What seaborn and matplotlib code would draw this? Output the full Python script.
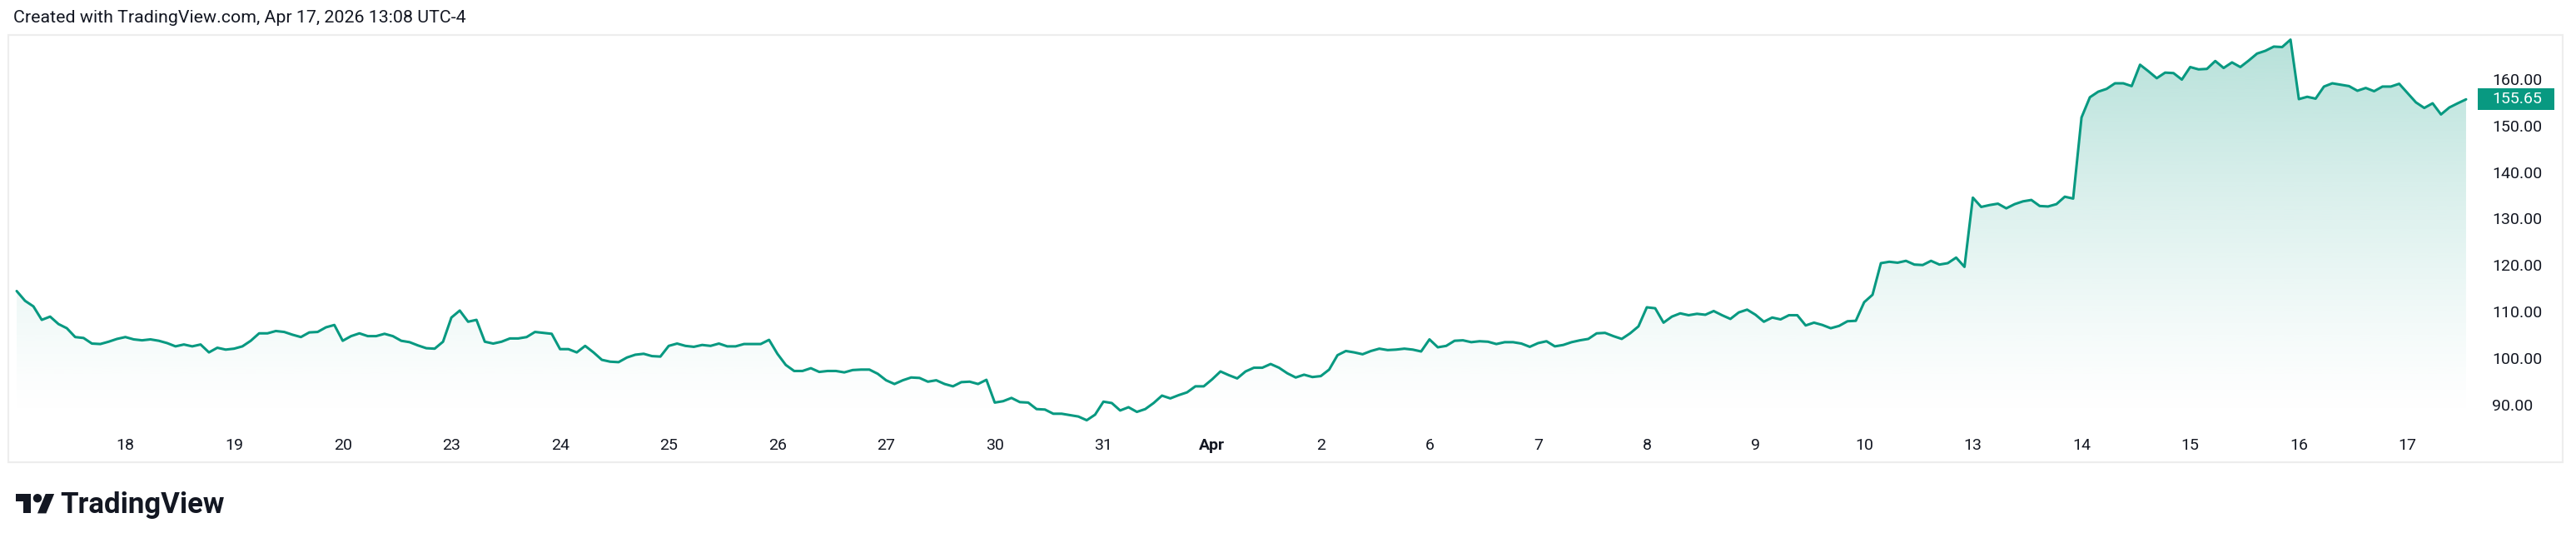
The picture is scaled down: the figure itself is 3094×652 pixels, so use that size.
"""
Area chart of a 30-minute close series, drawn in the look of a TradingView snapshot.
Saves out.png (3094x652).
"""

import numpy as np
import pandas as pd
import matplotlib
matplotlib.use("Agg")
import matplotlib.pyplot as plt
import seaborn as sns
from matplotlib.patches import Rectangle, Polygon, Ellipse

# 30-min closes, regular session only (13 bars per day)
mar17 = [114.4, 112.3, 111.1, 108.2, 108.9, 107.3, 106.4, 104.5, 104.3, 103.1, 103.0, 103.5, 104.1]
mar18 = [104.5, 104.0, 103.8, 104.0, 103.7, 103.2, 102.5, 102.9, 102.5, 102.9, 101.2, 102.2, 101.8]
mar19 = [102.0, 102.5, 103.7, 105.3, 105.3, 105.8, 105.6, 105.0, 104.5, 105.5, 105.6, 106.6, 107.1]
mar20 = [103.7, 104.7, 105.3, 104.7, 104.7, 105.2, 104.7, 103.7, 103.4, 102.7, 102.1, 102.0, 103.5]
mar23 = [108.7, 110.2, 107.8, 108.2, 103.5, 103.1, 103.5, 104.2, 104.2, 104.5, 105.6, 105.4, 105.2]
mar24 = [101.9, 101.9, 101.2, 102.6, 101.2, 99.6, 99.2, 99.1, 100.1, 100.7, 100.9, 100.4, 100.3]
mar25 = [102.6, 103.1, 102.6, 102.4, 102.8, 102.6, 103.1, 102.5, 102.5, 103.0, 103.0, 103.0, 103.9]
mar26 = [100.9, 98.5, 97.2, 97.2, 97.8, 97.0, 97.2, 97.2, 96.9, 97.4, 97.5, 97.5, 96.6]
mar27 = [95.2, 94.4, 95.2, 95.8, 95.7, 94.9, 95.2, 94.4, 93.9, 94.8, 94.9, 94.4, 95.3]
mar30 = [90.4, 90.7, 91.4, 90.5, 90.4, 89.0, 88.9, 88.0, 88.0, 87.7, 87.4, 86.6, 87.8]
mar31 = [90.6, 90.3, 88.7, 89.4, 88.4, 89.0, 90.3, 91.9, 91.3, 92.0, 92.6, 93.9, 93.9]
apr01 = [95.4, 97.1, 96.3, 95.6, 97.1, 97.9, 97.9, 98.7, 97.9, 96.7, 95.8, 96.4, 95.9]
apr02 = [96.1, 97.5, 100.6, 101.5, 101.2, 100.8, 101.5, 102.0, 101.7, 101.8, 102.0, 101.8, 101.4]
apr06 = [104.0, 102.3, 102.6, 103.7, 103.8, 103.4, 103.6, 103.5, 103.0, 103.4, 103.4, 103.1, 102.4]
apr07 = [103.2, 103.6, 102.5, 102.8, 103.4, 103.8, 104.1, 105.3, 105.4, 104.7, 104.1, 105.3, 106.8]
apr08 = [110.9, 110.7, 107.6, 108.9, 109.6, 109.2, 109.5, 109.3, 110.1, 109.2, 108.4, 109.8, 110.4]
apr09 = [109.3, 107.8, 108.7, 108.3, 109.2, 109.2, 107.0, 107.6, 107.1, 106.4, 106.9, 107.9, 108.0]
apr10 = [112.0, 113.6, 120.4, 120.7, 120.5, 120.9, 120.1, 120.0, 120.9, 120.1, 120.4, 121.6, 119.6]
apr13 = [134.5, 132.5, 132.9, 133.2, 132.2, 133.1, 133.7, 134.0, 132.7, 132.6, 133.1, 134.7, 134.3]
apr14 = [151.75, 156.1, 157.3, 157.9, 159.1, 159.1, 158.5, 163.1, 161.7, 160.2, 161.4, 161.3, 159.9]
apr15 = [162.6, 162.1, 162.2, 163.9, 162.4, 163.6, 162.6, 164.0, 165.5, 166.1, 167.0, 166.9, 168.5]
apr16 = [155.7, 156.2, 155.8, 158.4, 159.1, 158.8, 158.5, 157.5, 158.1, 157.4, 158.4, 158.4, 159.0]
apr17 = [157.0, 155.0, 153.8, 154.8, 152.4, 153.9, 154.8, 155.65]

SESSIONS = [mar17, mar18, mar19, mar20, mar23, mar24, mar25, mar26, mar27, mar30, mar31,
            apr01, apr02, apr06, apr07, apr08, apr09, apr10, apr13, apr14, apr15, apr16, apr17]
DAY_LABELS = ["18", "19", "20", "23", "24", "25", "26", "27", "30", "31", "Apr",
              "2", "6", "7", "8", "9", "10", "13", "14", "15", "16", "17"]
PRICE_TICKS = [90, 100, 110, 120, 130, 140, 150, 160]
LAST_PRICE = 155.65

TEAL = "#089981"
TEXT = "#131722"

prices = np.concatenate(SESSIONS)
bars = np.arange(len(prices))
day_starts = np.cumsum([len(s) for s in SESSIONS])[:-1]
df = pd.DataFrame({"bar": bars, "price": prices})

sns.set_theme(style="white")
plt.rcParams["font.family"] = ["Roboto", "DejaVu Sans"]

W, H = 3094, 652
fig = plt.figure(figsize=(W / 100, H / 100), dpi=100, facecolor="white")


def fx(px):
    return px / W


def fy(py):
    return 1 - py / H


# pane frame
fig.add_artist(Rectangle((fx(10), fy(555)), fx(3078) - fx(10), fy(42) - fy(555),
                         transform=fig.transFigure, fill=False,
                         edgecolor="#ededed", lw=1.6))

ax = fig.add_axes([fx(10), fy(507), fx(2972) - fx(10), fy(42) - fy(507)])
ax.patch.set_alpha(0)
Y_LO, Y_HI = 86.17, 169.5

# gradient area under the line
grad = np.zeros((256, 1, 4))
grad[..., :3] = matplotlib.colors.to_rgb(TEAL)
grad[:, 0, 3] = 0.30 * np.linspace(0, 1, 256) ** 1.3
im = ax.imshow(grad, extent=[bars[0], bars[-1], Y_LO, Y_HI], origin="lower",
               aspect="auto", zorder=1, interpolation="bilinear")
area = ax.fill_between(bars, prices, Y_LO, facecolor="none", edgecolor="none")
im.set_clip_path(area.get_paths()[0], transform=ax.transData)

sns.lineplot(data=df, x="bar", y="price", color=TEAL, linewidth=2.2, ax=ax, zorder=3)

ax.set_xlim(-1.0, 294.0)
ax.set_ylim(Y_LO, Y_HI)
ax.set_xlabel("")
ax.set_ylabel("")
for s in ax.spines.values():
    s.set_visible(False)

ax.set_xticks(day_starts)
ax.set_xticklabels(DAY_LABELS)
for lab in ax.get_xticklabels():
    if lab.get_text() == "Apr":
        lab.set_fontweight("bold")
ax.tick_params(axis="x", length=0, pad=14, labelsize=14, labelcolor=TEXT)

ax.yaxis.tick_right()
ax.set_yticks(PRICE_TICKS)
ax.set_yticklabels([f"{v:.2f}" for v in PRICE_TICKS])
ax.tick_params(axis="y", length=0, pad=15, labelsize=14, labelcolor=TEXT)

# last price badge
ytr = ax.get_yaxis_transform()
ax.add_patch(Rectangle((1.00135, LAST_PRICE - 2.33), 0.03106, 4.66, transform=ytr,
                       facecolor=TEAL, edgecolor="none", clip_on=False, zorder=5))
ax.text(1.0071, LAST_PRICE, f"{LAST_PRICE:.2f}", transform=ytr, color="white",
        ha="left", va="center", fontsize=14, zorder=6)

# header
fig.text(fx(16), fy(27), "Created with TradingView.com, Apr 17, 2026 13:08 UTC-4",
         ha="left", va="baseline", fontsize=15.4, color=TEXT)

# logo
k = 1.3


def lp(u, v):
    return (fx(19 + u * k), fy(593 + (v - 4) * k))


fig.add_artist(Polygon([lp(0, 4), lp(14, 4), lp(14, 22), lp(7, 22), lp(7, 11), lp(0, 11)],
                       closed=True, transform=fig.transFigure, facecolor=TEXT, edgecolor="none"))
fig.add_artist(Polygon([lp(20, 22), lp(27.5, 4), lp(35.5, 4), lp(28, 22)],
                       closed=True, transform=fig.transFigure, facecolor=TEXT, edgecolor="none"))
cx, cy = lp(20, 8)
fig.add_artist(Ellipse((cx, cy), 8 * k / W, 8 * k / H, transform=fig.transFigure,
                       facecolor=TEXT, edgecolor="none"))
fig.text(fx(72), fy(616), "TradingView", ha="left", va="baseline", fontsize=25,
         fontweight="bold", color=TEXT)

fig.savefig("out.png", dpi=100, facecolor="white")
